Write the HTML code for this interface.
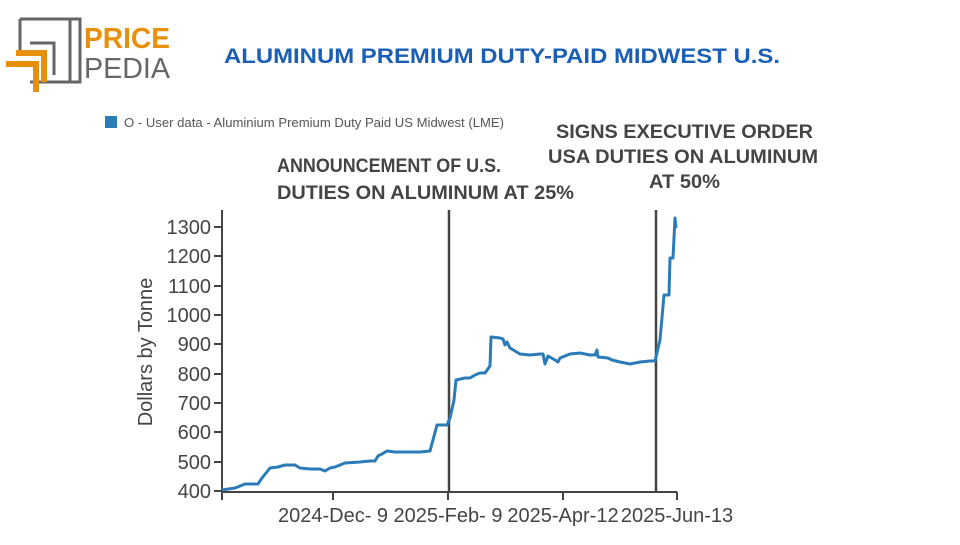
<!DOCTYPE html>
<html><head><style>
body{margin:0;width:960px;height:540px;background:#fff;overflow:hidden;font-family:"Liberation Sans",sans-serif;}
</style></head><body>
<svg width="960" height="540" xmlns="http://www.w3.org/2000/svg">
<path d="M70 82 V19 H80 M20 19 H80 V82 H30" fill="none" stroke="#666" stroke-width="3"/>
<path d="M20 19 V55 M30 43 H54 V75" fill="none" stroke="#666" stroke-width="3"/>
<path d="M6 64 H36 V92 M16 53 H44 V82" fill="none" stroke="#e8900c" stroke-width="6"/>
<text x="84" y="48" font-size="29" font-weight="bold" fill="#e8900c" textLength="86" lengthAdjust="spacingAndGlyphs">PRICE</text>
<text x="84" y="78" font-size="29" fill="#666" textLength="86" lengthAdjust="spacingAndGlyphs">PEDIA</text>
<text x="224" y="63" font-size="21" font-weight="bold" fill="#1a5fb4" textLength="556" lengthAdjust="spacingAndGlyphs">ALUMINUM PREMIUM DUTY-PAID MIDWEST U.S.</text>
<rect x="105" y="116" width="12" height="12" fill="#2b7bb9"/>
<text x="124" y="127" font-size="13" fill="#555" textLength="380" lengthAdjust="spacingAndGlyphs">O - User data - Aluminium Premium Duty Paid US Midwest (LME)</text>
<g font-size="19" font-weight="bold" fill="#444">
<text x="277" y="172" textLength="224" lengthAdjust="spacingAndGlyphs">ANNOUNCEMENT OF U.S.</text>
<text x="277" y="199" textLength="297" lengthAdjust="spacingAndGlyphs">DUTIES ON ALUMINUM AT 25%</text>
<text x="556" y="138" textLength="257" lengthAdjust="spacingAndGlyphs">SIGNS EXECUTIVE ORDER</text>
<text x="548" y="163" textLength="270" lengthAdjust="spacingAndGlyphs">USA DUTIES ON ALUMINUM</text>
<text x="649" y="188" textLength="71" lengthAdjust="spacingAndGlyphs">AT 50%</text>
</g>
<g stroke="#444" stroke-width="2" fill="none">
<path d="M222 210 V492 H677"/>
<path d="M222 492 V500 M333 492 V500 M448 492 V500 M563 492 V500 M677 492 V500"/>
<path d="M214 491 H222 M214 462 H222 M214 432 H222 M214 403 H222 M214 374 H222 M214 344 H222 M214 315 H222 M214 286 H222 M214 256 H222 M214 227 H222"/>
</g>
<g font-size="20" fill="#444" text-anchor="end">
<text x="211" y="498">400</text><text x="211" y="469">500</text><text x="211" y="439">600</text>
<text x="211" y="410">700</text><text x="211" y="381">800</text><text x="211" y="351">900</text>
<text x="211" y="322">1000</text><text x="211" y="293">1100</text><text x="211" y="263">1200</text>
<text x="211" y="234">1300</text>
</g>
<text transform="translate(152,352) rotate(-90)" font-size="20" fill="#444" text-anchor="middle">Dollars by Tonne</text>
<g font-size="20" fill="#444" text-anchor="middle">
<text x="333" y="522">2024-Dec- 9</text><text x="448" y="522">2025-Feb- 9</text>
<text x="563" y="522">2025-Apr-12</text><text x="677" y="522">2025-Jun-13</text>
</g>
<line x1="449" y1="210" x2="449" y2="492" stroke="#444" stroke-width="2.5"/>
<line x1="656" y1="210" x2="656" y2="492" stroke="#444" stroke-width="2.5"/>
<polyline fill="none" stroke="#2b7bb9" stroke-width="3" stroke-linejoin="round" points="222,490 235,488 245,484 258,484 262,478 270,468 278,467 285,465 295,465 300,468 310,469 320,469 325,471 330,468 335,467 340,465 345,463 360,462 370,461 375,461 378,456 382,454 387,451 395,452 420,452 430,451 437,425 447,425 450,418 454,400 456,380 465,378 470,378 475,375 480,373 485,373 490,366 491,337 500,338 503,339 505,345 507,342 510,348 515,351 520,354 530,355 540,354 543,354 545,364 548,356 555,360 558,362 560,358 570,354 580,353 590,355 595,355 597,350 598,357 608,358 612,360 620,362 630,364 640,362 650,361 655,361 660,340 664,295 669,295 670,258 673,258 675,218 676,228"/>
</svg>
</body></html>
